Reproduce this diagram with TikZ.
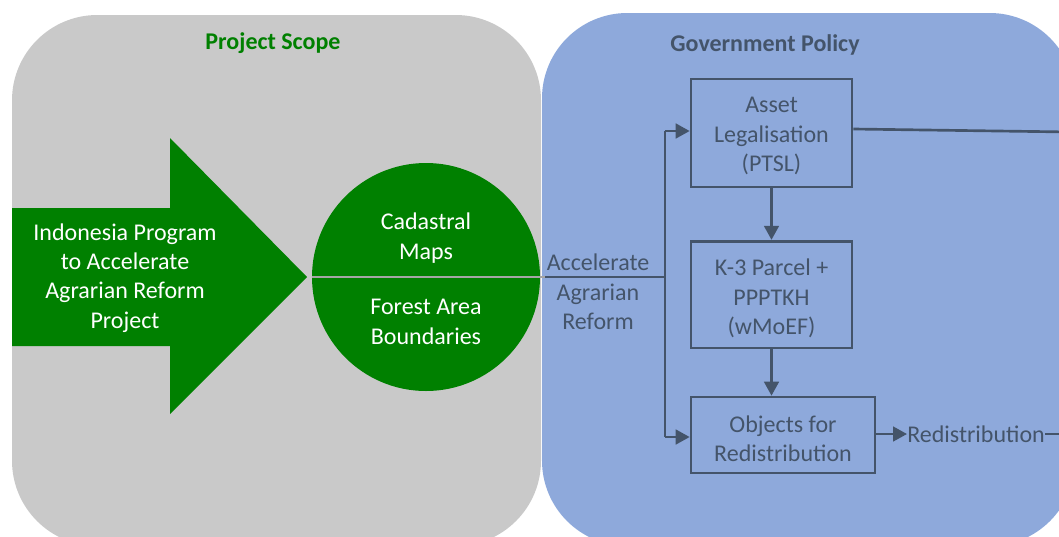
\documentclass[tikz,border=0pt]{standalone}
\usepackage{fontspec}
\setmainfont{Carlito}
\usetikzlibrary{arrows.meta,calc}
\definecolor{scopegray}{HTML}{C9C9C9}
\definecolor{policyblue}{HTML}{8EA9DB}
\definecolor{projgreen}{HTML}{008000}
\definecolor{slate}{HTML}{44546A}
\definecolor{divgray}{HTML}{A6A6A6}
\begin{document}
\begin{tikzpicture}[x=0.75pt,y=-0.75pt,
  body/.style={font=\fontsize{18}{22}\selectfont, align=center},
  title/.style={font=\fontsize{18}{21}\selectfont\bfseries},
  stepbox/.style={draw=slate, line width=2pt, fill=policyblue, inner sep=0pt},
  boxtext/.style={body, text=slate, inner sep=0pt},
  flow/.style={draw=slate, line width=2pt, -{Triangle[length=10.5pt,width=11pt]}},
  link/.style={draw=slate, line width=2pt}]
\useasboundingbox (0,0) rectangle (1059,536);
\clip (0,0) rectangle (1059,536);
% panels
\fill[scopegray, rounded corners=64pt] (12,15) rectangle (541,546);
\fill[policyblue, rounded corners=64pt] (542,13) rectangle (1075,546);
% titles
\node[title, text=projgreen] (scope) at (273,43) {Project Scope};
\node[title, text=slate] (policy) at (765,45) {Government Policy};
% big arrow
\fill[projgreen] (12,208) -- (170,208) -- (170,138) -- (307,277) -- (170,414) -- (170,346) -- (12,346) -- cycle;
\node[body, text=white] (program) at (125,278) {Indonesia Program\\to Accelerate\\Agrarian Reform\\Project};
% circle
\node[circle, fill=projgreen, minimum size=171pt, inner sep=0pt] (circ) at (426,277) {};
\node[body, text=white] (cad) at (426,238) {Cadastral\\Maps};
\node[body, text=white] (forest) at (426,322) {Forest Area\\Boundaries};
\coordinate (split) at (545,277);
\coordinate (junc) at (665,277);
\draw[divgray, line width=2pt] (circ.west) -- (split);
\draw[link] (split) -- (junc);
\node[body, text=slate] (accel) at (598,292) {Accelerate\\Agrarian\\Reform};
% boxes
\node[stepbox, minimum width=120.75pt, minimum height=81pt] (box1) at (771.5,133) {};
\node[boxtext] (box1t) at (771.5,136) {Asset\\Legalisation\\(PTSL)};
\node[stepbox, minimum width=120.75pt, minimum height=80pt] (box2) at (771.5,294.5) {};
\node[boxtext] (box2t) at (771.5,298.5) {K-3 Parcel +\\PPPTKH\\(wMoEF)};
\node[stepbox, minimum width=138pt, minimum height=57pt] (box3) at (783,435) {};
\node[boxtext] (box3t) at (783,439) {Objects for\\Redistribution};
% connectors
\coordinate (top) at (665,131);
\coordinate (bot) at (665,437);
\draw[link] (top) -- (bot);
\draw[flow] (top) -- (top -| box1.west);
\draw[flow] (bot) -- (bot -| box3.west);
\draw[flow] (box1.south) -- (box2.north);
\draw[flow] (box2.south) -- (box2.south |- box3.north);
\node[body, text=slate, anchor=west, inner sep=0pt] (redis) at (907,434) {Redistribution};
\draw[flow] (box3.east |- redis.west) -- (redis.west);
\coordinate (offR) at (1070,434);
\draw[link] (redis.east) -- (offR);
\coordinate (a1) at ($(box1.east)+(0,-4)$);
\coordinate (offA) at (1070,132);
\draw[link] (a1) -- (offA);
\end{tikzpicture}
\end{document}
